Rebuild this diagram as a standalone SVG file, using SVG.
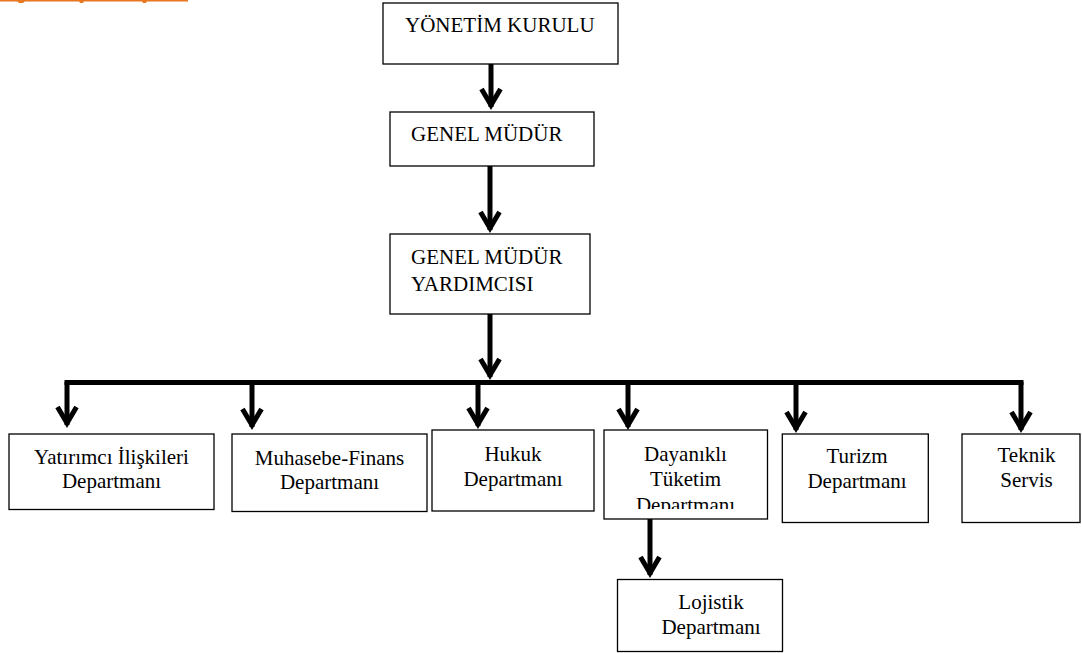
<svg xmlns="http://www.w3.org/2000/svg" width="1082" height="653" viewBox="0 0 1082 653">
<style>
.box{fill:#fff;stroke:#000;stroke-width:1.3}
.t{font-family:"Liberation Serif","Times New Roman",serif;font-size:21px;fill:#000}
.c{text-anchor:middle}
.con{stroke:#000;stroke-width:5;fill:none}
</style>
<defs>
<marker id="ah" markerUnits="userSpaceOnUse" viewBox="-30 -15 35 30" markerWidth="35" markerHeight="30" refX="-3" refY="0" orient="auto" overflow="visible">
<path d="M-21,-9.5 L-5,0 L-21,9.5" fill="none" stroke="#000" stroke-width="5" stroke-linejoin="miter" stroke-miterlimit="10"/>
</marker>
<clipPath id="clipD"><rect x="600" y="425" width="170" height="84"/></clipPath>
</defs>
<rect width="1082" height="653" fill="#fff"/>
<g id="header-mark">
<line x1="0" y1="0.8" x2="188" y2="0.8" stroke="#e87722" stroke-width="1.6"/>
<path d="M17,1 h8 l-2,2 h-4 z M79,1 h5 l-1,2 h-3 z M142,1 h5 l-1,2 h-3 z" fill="#e87722"/>
</g>
<g id="connectors" class="con">
<line x1="491" y1="64" x2="491" y2="107" marker-end="url(#ah)"/>
<line x1="490" y1="166" x2="490" y2="230" marker-end="url(#ah)"/>
<line x1="490" y1="314" x2="490" y2="377" marker-end="url(#ah)"/>
<line x1="64.5" y1="382.5" x2="1023.5" y2="382.5"/>
<line x1="67" y1="382" x2="67" y2="425" marker-end="url(#ah)"/>
<line x1="252" y1="382" x2="252" y2="427" marker-end="url(#ah)"/>
<line x1="478" y1="382" x2="478" y2="426" marker-end="url(#ah)"/>
<line x1="628" y1="382" x2="628" y2="427" marker-end="url(#ah)"/>
<line x1="796" y1="382" x2="796" y2="430" marker-end="url(#ah)"/>
<line x1="1021" y1="382" x2="1021" y2="430" marker-end="url(#ah)"/>
<line x1="650" y1="519" x2="650" y2="575" marker-end="url(#ah)"/>
</g>
<g id="yonetim-kurulu">
<rect class="box" x="383" y="3" width="235" height="61"/>
<text class="t" x="405" y="32">YÖNETİM KURULU</text>
</g>
<g id="genel-mudur">
<rect class="box" x="390" y="112" width="204" height="54"/>
<text class="t" x="411" y="140.6">GENEL MÜDÜR</text>
</g>
<g id="genel-mudur-yardimcisi">
<rect class="box" x="390" y="234" width="200" height="80"/>
<text class="t" x="411" y="264">GENEL MÜDÜR</text>
<text class="t" x="411" y="290.6">YARDIMCISI</text>
</g>
<g id="yatirimci">
<rect class="box" x="9" y="434" width="205" height="75.5"/>
<text class="t c" x="111.5" y="464">Yatırımcı İlişkileri</text>
<text class="t c" x="111.5" y="488">Departmanı</text>
</g>
<g id="muhasebe">
<rect class="box" x="232" y="434" width="195" height="77.5"/>
<text class="t c" x="329.5" y="465">Muhasebe-Finans</text>
<text class="t c" x="329.5" y="489">Departmanı</text>
</g>
<g id="hukuk">
<rect class="box" x="432" y="430" width="162" height="81"/>
<text class="t c" x="513" y="460.5">Hukuk</text>
<text class="t c" x="513" y="485.5">Departmanı</text>
</g>
<g id="dayanikli">
<rect class="box" x="604" y="430" width="163.5" height="89"/>
<text class="t c" x="685.5" y="460.5">Dayanıklı</text>
<text class="t c" x="685.5" y="486">Tüketim</text>
<text class="t c" x="685.5" y="511.5" clip-path="url(#clipD)">Departmanı</text>
</g>
<g id="turizm">
<rect class="box" x="782.3" y="434" width="146" height="88.5"/>
<text class="t c" x="857" y="463">Turizm</text>
<text class="t c" x="857" y="488">Departmanı</text>
</g>
<g id="teknik">
<rect class="box" x="962" y="434" width="118" height="88.5"/>
<text class="t c" x="1026.5" y="462">Teknik</text>
<text class="t c" x="1026.5" y="487">Servis</text>
</g>
<g id="lojistik">
<rect class="box" x="617.5" y="579.5" width="165" height="72"/>
<text class="t c" x="711" y="609">Lojistik</text>
<text class="t c" x="711" y="634">Departmanı</text>
</g>
</svg>
